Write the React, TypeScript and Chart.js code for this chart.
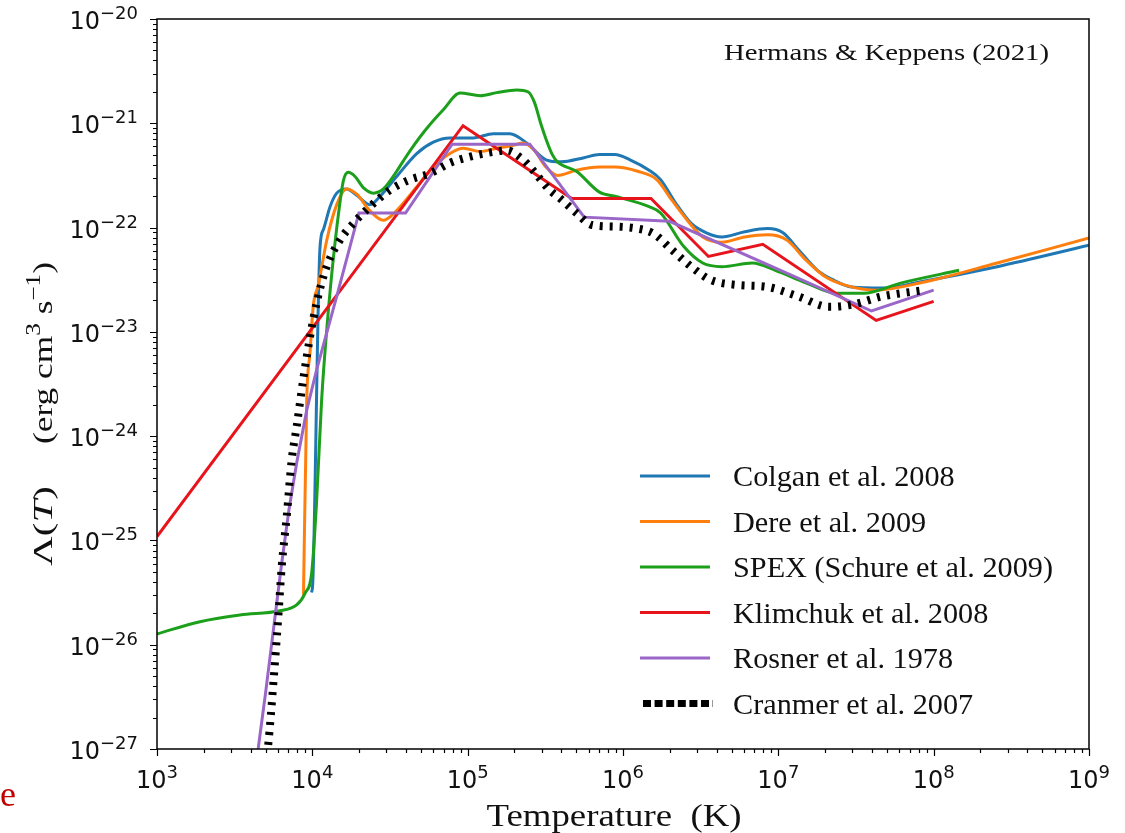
import React, { useEffect, useRef } from "react";
import { Chart, registerables } from "chart.js";

Chart.register(...registerables);

// ---- Data (log10 T [K], log10 Lambda [erg cm^3 s^-1]) ----
const colganLogT = [3.995, 4.003, 4.049, 4.071, 4.114, 4.157, 4.221, 4.286, 4.371, 4.436, 4.543, 4.672, 4.779, 4.886, 5.036, 5.165, 5.272, 5.381, 5.504, 5.602, 5.749, 5.848, 5.947, 6.045, 6.168, 6.242, 6.341, 6.439, 6.537, 6.636, 6.784, 6.931, 7.03, 7.128, 7.252, 7.35, 7.473, 7.67, 7.917, 8.409, 9.0];
const colganLogL = [-25.5, -25.4, -22.2, -22.02, -21.8, -21.67, -21.63, -21.69, -21.78, -21.7, -21.51, -21.29, -21.18, -21.14, -21.14, -21.1, -21.1, -21.19, -21.35, -21.37, -21.33, -21.3, -21.3, -21.35, -21.45, -21.54, -21.77, -21.96, -22.05, -22.09, -22.04, -22.01, -22.05, -22.21, -22.41, -22.5, -22.57, -22.58, -22.52, -22.375, -22.17];

const dereLogT = [3.943, 3.964, 3.985, 4.006, 4.039, 4.093, 4.157, 4.221, 4.286, 4.371, 4.457, 4.521, 4.672, 4.779, 4.886, 4.972, 5.08, 5.187, 5.294, 5.356, 5.43, 5.504, 5.578, 5.7, 5.848, 5.947, 6.094, 6.217, 6.316, 6.414, 6.513, 6.636, 6.784, 6.931, 7.054, 7.177, 7.3, 7.424, 7.621, 7.917, 8.409, 9.0];
const dereLogL = [-25.52, -23.65, -23.2, -22.75, -22.55, -22.12, -21.78, -21.63, -21.68, -21.84, -21.93, -21.87, -21.61, -21.42, -21.29, -21.24, -21.27, -21.24, -21.21, -21.19, -21.26, -21.42, -21.5, -21.45, -21.42, -21.42, -21.46, -21.54, -21.74, -21.93, -22.09, -22.14, -22.09, -22.07, -22.12, -22.31, -22.47, -22.55, -22.6, -22.53, -22.34, -22.1];

const spexLogT = [3.0, 3.277, 3.534, 3.792, 3.899, 3.953, 3.996, 4.028, 4.06, 4.1, 4.135, 4.17, 4.2, 4.232, 4.275, 4.33, 4.393, 4.457, 4.543, 4.586, 4.64, 4.736, 4.843, 4.951, 5.08, 5.187, 5.316, 5.39, 5.43, 5.47, 5.504, 5.545, 5.578, 5.7, 5.848, 5.947, 6.168, 6.242, 6.39, 6.513, 6.636, 6.833, 6.98, 7.177, 7.374, 7.547, 7.793, 8.163];
const spexLogL = [-25.897, -25.779, -25.715, -25.674, -25.619, -25.507, -25.31, -24.61, -23.65, -22.85, -22.3, -21.85, -21.55, -21.47, -21.51, -21.62, -21.67, -21.63, -21.46, -21.36, -21.24, -21.05, -20.87, -20.71, -20.735, -20.706, -20.68, -20.7, -20.8, -21.0, -21.15, -21.3, -21.37, -21.46, -21.66, -21.7, -21.8, -21.86, -22.18, -22.34, -22.375, -22.34, -22.41, -22.53, -22.63, -22.63, -22.53, -22.41];

const klimchukLogT = [3.0, 4.97, 5.67, 6.18, 6.55, 6.9, 7.63, 8.0];
const klimchukLogL = [-24.963, -21.023, -21.722, -21.721, -22.277, -22.161, -22.89, -22.708];

const rosnerLogT = [3.64, 3.652, 3.7, 3.75, 3.8, 3.85, 3.9, 3.964, 4.03, 4.157, 4.3, 4.6, 4.9, 5.4, 5.75, 6.3, 7.0, 7.6, 8.0];
const rosnerLogL = [-27.1, -26.99, -26.45, -25.85, -25.25, -24.7, -24.25, -23.75, -23.35, -22.66, -21.86, -21.86, -21.2, -21.2, -21.9, -21.94, -22.4, -22.8, -22.6];

const cranmerLogT = [3.7, 3.717, 3.749, 3.781, 3.803, 3.835, 3.867, 3.899, 3.942, 3.985, 4.028, 4.093, 4.178, 4.264, 4.371, 4.5, 4.629, 4.758, 4.886, 5.015, 5.187, 5.25, 5.356, 5.42, 5.528, 5.595, 5.7, 5.8, 5.947, 6.094, 6.193, 6.316, 6.439, 6.562, 6.734, 6.931, 7.128, 7.325, 7.473, 7.67, 7.94];
const cranmerLogL = [-27.15, -26.945, -26.37, -25.73, -25.25, -24.77, -24.23, -23.91, -23.45, -23.05, -22.72, -22.37, -22.12, -21.96, -21.8, -21.64, -21.54, -21.48, -21.38, -21.32, -21.27, -21.26, -21.35, -21.45, -21.64, -21.72, -21.86, -21.975, -21.99, -22.01, -22.055, -22.215, -22.375, -22.5, -22.55, -22.57, -22.66, -22.76, -22.74, -22.66, -22.6];

const seriesLabels = [
  "Colgan et al. 2008",
  "Dere et al. 2009",
  "SPEX (Schure et al. 2009)",
  "Klimchuk et al. 2008",
  "Rosner et al. 1978",
  "Cranmer et al. 2007",
];
const seriesColors = ["#1f77b4", "#ff7f0e", "#1ca01c", "#e8141c", "#9a66c8", "#000000"];

const xTickExponents = [3, 4, 5, 6, 7, 8, 9];
const yTickExponents = [-27, -26, -25, -24, -23, -22, -21, -20];

const annotationText = "Hermans & Keppens (2021)";
const xTitle = "Temperature  (K)";

function toPoints(logT: number[], logL: number[]) {
  return logT.map((t, i) => ({ x: Math.pow(10, t), y: Math.pow(10, logL[i]) }));
}

const SERIF = '"Liberation Serif", "Times New Roman", serif';
const SANS = '"DejaVu Sans", sans-serif';

type Piece = { t: string; f: string; r: number };

const decorPlugin = {
  id: "decor",
  afterDraw(chart: any) {
    const ctx: CanvasRenderingContext2D = chart.ctx;
    const xs = chart.scales.x;
    const ys = chart.scales.y;
    const area = chart.chartArea;
    ctx.save();

    // frame
    ctx.strokeStyle = "#111";
    ctx.lineWidth = 1.6;
    ctx.strokeRect(area.left, area.top, area.right - area.left, area.bottom - area.top);

    // ticks
    ctx.lineWidth = 1.2;
    ctx.strokeStyle = "#000";
    ctx.beginPath();
    for (let i = 0; i < xTickExponents.length; i++) {
      const e = xTickExponents[i];
      const px = Math.round(xs.getPixelForValue(Math.pow(10, e))) + 0.5;
      ctx.moveTo(px, area.bottom);
      ctx.lineTo(px, area.bottom + 7);
      if (i < xTickExponents.length - 1) {
        for (let m = 2; m <= 9; m++) {
          const mx = Math.round(xs.getPixelForValue(m * Math.pow(10, e))) + 0.5;
          ctx.moveTo(mx, area.bottom);
          ctx.lineTo(mx, area.bottom + 4);
        }
      }
    }
    for (let i = 0; i < yTickExponents.length; i++) {
      const e = yTickExponents[i];
      const py = Math.round(ys.getPixelForValue(Math.pow(10, e))) + 0.5;
      ctx.moveTo(area.left, py);
      ctx.lineTo(area.left - 7, py);
      if (i < yTickExponents.length - 1) {
        for (let m = 2; m <= 9; m++) {
          const my = Math.round(ys.getPixelForValue(m * Math.pow(10, e))) + 0.5;
          ctx.moveTo(area.left, my);
          ctx.lineTo(area.left - 4, my);
        }
      }
    }
    ctx.stroke();

    // tick labels
    ctx.fillStyle = "#111";
    ctx.textBaseline = "alphabetic";
    ctx.textAlign = "left";
    const baseFont = `24px ${SANS}`;
    const supFont = `18px ${SANS}`;
    const drawPow = (exp: number, anchorX: number, baseY: number, align: string) => {
      const base = "10";
      const sup = exp < 0 ? "\u2212" + Math.abs(exp) : String(exp);
      ctx.font = baseFont;
      const wb = ctx.measureText(base).width;
      ctx.font = supFont;
      const ws = ctx.measureText(sup).width;
      const total = wb + ws;
      const x0 = align === "center" ? anchorX - total / 2 : anchorX - total;
      ctx.font = baseFont;
      ctx.fillText(base, x0, baseY);
      ctx.font = supFont;
      ctx.fillText(sup, x0 + wb, baseY - 10);
    };
    for (const e of xTickExponents) {
      const px = xs.getPixelForValue(Math.pow(10, e));
      drawPow(e, px, area.bottom + 39, "center");
    }
    for (const e of yTickExponents) {
      const py = ys.getPixelForValue(Math.pow(10, e));
      drawPow(e, area.left - 19, py + 10, "right");
    }

    // helper: text fitted to a width
    const fitText = (text: string, font: string, x: number, y: number, width: number, align: string) => {
      ctx.font = font;
      const w = ctx.measureText(text).width;
      const sx = width / w;
      const x0 = align === "center" ? x - width / 2 : x;
      ctx.save();
      ctx.translate(x0, y);
      ctx.scale(sx, 1);
      ctx.textAlign = "left";
      ctx.fillText(text, 0, 0);
      ctx.restore();
    };

    // helper: a run of pieces fitted to a length, drawn in current transform starting at x=0
    const drawRun = (pieces: Piece[], length: number) => {
      const widths: number[] = [];
      let natural = 0;
      for (const p of pieces) {
        ctx.font = p.f;
        const w = ctx.measureText(p.t).width;
        widths.push(w);
        natural += w;
      }
      ctx.save();
      ctx.scale(length / natural, 1);
      let cx = 0;
      pieces.forEach((p, i) => {
        ctx.font = p.f;
        ctx.fillText(p.t, cx, -p.r);
        cx += widths[i];
      });
      ctx.restore();
    };

    // x title
    ctx.fillStyle = "#111";
    fitText(xTitle, `31px ${SERIF}`, 614, 826, 255, "center");

    // y title (rotated): "Λ(T)   (erg cm^3 s^-1)"
    const S = 28;
    const sup = `${Math.round(S * 0.7)}px ${SERIF}`;
    const reg = `${S}px ${SERIF}`;
    const runA: Piece[] = [
      { t: "\u039B(", f: reg, r: 0 },
      { t: "T", f: `italic ${S}px ${SERIF}`, r: 0 },
      { t: ")", f: reg, r: 0 },
    ];
    const runB: Piece[] = [
      { t: "(erg cm", f: reg, r: 0 },
      { t: "3", f: sup, r: S * 0.42 },
      { t: " s", f: reg, r: 0 },
      { t: "\u22121", f: sup, r: S * 0.42 },
      { t: ")", f: reg, r: 0 },
    ];
    ctx.save();
    ctx.translate(52, 566);
    ctx.rotate(-Math.PI / 2);
    drawRun(runA, 80);
    ctx.translate(122, 0);
    drawRun(runB, 182);
    ctx.restore();

    // annotation
    fitText(annotationText, `24px ${SERIF}`, 724, 60, 325, "left");

    // legend
    ctx.font = `30px ${SERIF}`;
    const refW = ctx.measureText(seriesLabels[2]).width;
    const lsx = 320 / refW;
    for (let i = 0; i < seriesLabels.length; i++) {
      const ly = 476 + i * 45.5;
      ctx.save();
      ctx.strokeStyle = seriesColors[i];
      if (i === 5) {
        ctx.lineWidth = 7;
        ctx.setLineDash([8, 3.6]);
        ctx.lineCap = "butt";
        ctx.beginPath();
        ctx.moveTo(643, ly);
        ctx.lineTo(713, ly);
        ctx.stroke();
      } else {
        ctx.lineWidth = 3;
        ctx.beginPath();
        ctx.moveTo(640, ly);
        ctx.lineTo(710, ly);
        ctx.stroke();
      }
      ctx.restore();
      ctx.save();
      ctx.fillStyle = "#111";
      ctx.font = `30px ${SERIF}`;
      ctx.translate(733, ly + 10);
      ctx.scale(lsx, 1);
      ctx.fillText(seriesLabels[i], 0, 0);
      ctx.restore();
    }

    // stray red letter at bottom-left of the reference crop
    ctx.fillStyle = "#c00000";
    ctx.font = `36px ${SERIF}`;
    ctx.fillText("e", 0, 806);

    ctx.restore();
  },
};

export default function App() {
  const canvasRef = useRef<HTMLCanvasElement | null>(null);

  useEffect(() => {
    if (!canvasRef.current) return;
    const mk = (i: number, logT: number[], logL: number[], smooth: boolean, extra: any = {}) => ({
      label: seriesLabels[i],
      data: toPoints(logT, logL),
      borderColor: seriesColors[i],
      backgroundColor: seriesColors[i],
      borderWidth: 3,
      pointRadius: 0,
      fill: false,
      clip: 0,
      order: 6 - i,
      cubicInterpolationMode: smooth ? "monotone" : "default",
      tension: 0,
      ...extra,
    });
    const chart = new Chart(canvasRef.current, {
      type: "line",
      data: {
        datasets: [
          mk(0, colganLogT, colganLogL, true),
          mk(1, dereLogT, dereLogL, true),
          mk(2, spexLogT, spexLogL, true),
          mk(3, klimchukLogT, klimchukLogL, false),
          mk(4, rosnerLogT, rosnerLogL, false),
          mk(5, cranmerLogT, cranmerLogL, true, {
            borderWidth: 8,
            borderDash: [3, 7],
            borderCapStyle: "butt",
          }),
        ] as any,
      },
      options: {
        animation: false,
        responsive: true,
        maintainAspectRatio: false,
        layout: { padding: { left: 157, right: 36, top: 19, bottom: 84 } },
        scales: {
          x: { type: "logarithmic", min: 1e3, max: 1e9, display: false },
          y: { type: "logarithmic", min: 1e-27, max: 1e-20, display: false },
        },
        plugins: { legend: { display: false }, tooltip: { enabled: false } },
        elements: { point: { radius: 0 } },
      } as any,
      plugins: [decorPlugin],
    });
    return () => chart.destroy();
  }, []);

  return (
    <div style={{ position: "absolute", left: 0, top: 0, width: 1125, height: 833, background: "#fff" }}>
      <canvas ref={canvasRef} />
    </div>
  );
}
